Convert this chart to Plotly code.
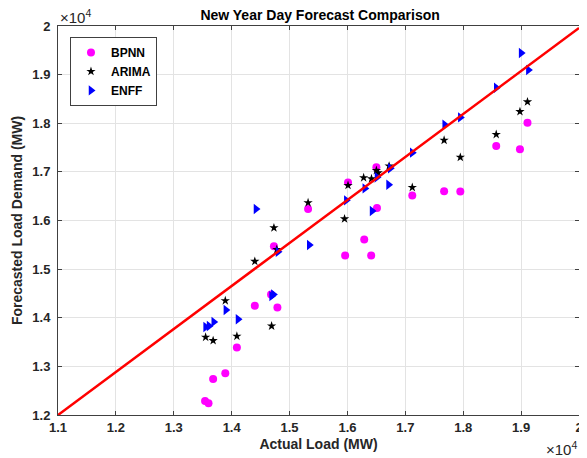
import plotly.graph_objects as go

# actual load (MW) vs forecast per model
bpnn_actual = [13540, 13600, 13680, 13890, 14090, 14400, 14680, 14790, 14730, 15320, 15960,
               16410, 16290, 16510, 16010, 16500, 17120, 17670, 17950, 18570, 18980, 19110]
bpnn_fcst = [12290, 12240, 12740, 12860, 13390, 14245, 14480, 14210, 15470, 16235, 15280,
             15280, 15610, 16255, 16784, 17093, 16516, 16600, 16595, 17531, 17463, 18010]

arima_actual = [13550, 13680, 14090, 13890, 14690, 14400, 14730, 14780, 15320, 15950, 16010,
                16280, 16415, 16500, 16530, 16720, 17120, 17670, 17950, 18570, 18980, 19110]
arima_fcst = [13600, 13530, 13620, 14350, 13830, 15160, 15850, 15405, 16365, 16035, 16722,
              16880, 16860, 17030, 16980, 17120, 16680, 17650, 17300, 17770, 18240, 18440]

enff_actual = [13550, 13610, 13690, 13900, 14110, 14420, 14690, 14720, 14800, 15340, 15980,
               16300, 16425, 16510, 16710, 16740, 17120, 17680, 17950, 18570, 19000, 19125]
enff_fcst = [13810, 13830, 13915, 14160, 13970, 16235, 14445, 14480, 15355, 15495, 16414,
             16660, 16195, 16890, 16735, 17075, 17395, 17970, 18120, 18730, 19445, 19095]

line_x = [11000, 20000]
line_y = [12000, 19960]

x_ticks = [11000, 12000, 13000, 14000, 15000, 16000, 17000, 18000, 19000, 20000]
x_ticktext = ["1.1", "1.2", "1.3", "1.4", "1.5", "1.6", "1.7", "1.8", "1.9", "2"]
y_ticks = [12000, 13000, 14000, 15000, 16000, 17000, 18000, 19000, 20000]
y_ticktext = ["1.2", "1.3", "1.4", "1.5", "1.6", "1.7", "1.8", "1.9", "2"]

FONT = "Liberation Sans, Arial, sans-serif"
INK = "#262626"

fig = go.Figure()
fig.add_trace(go.Scatter(x=bpnn_actual, y=bpnn_fcst, mode="markers", name="BPNN",
                         marker=dict(symbol="circle", size=8, color="#ff00ff")))
fig.add_trace(go.Scatter(x=arima_actual, y=arima_fcst, mode="markers", name="ARIMA",
                         marker=dict(symbol="star", size=7, color="black")))
fig.add_trace(go.Scatter(x=enff_actual, y=enff_fcst, mode="markers", name="ENFF",
                         marker=dict(symbol="triangle-right", size=9, color="#0000ff")))
fig.add_trace(go.Scatter(x=line_x, y=line_y, mode="lines", showlegend=False,
                         line=dict(color="#ff0000", width=2.5)))

_axis = dict(showgrid=True, gridcolor="#e3e3e3", gridwidth=1, zeroline=False,
             showline=True, linecolor="#404040", linewidth=1, mirror="ticks",
             ticks="inside", ticklen=4, tickcolor="#404040",
             tickfont=dict(family=FONT, size=13, color=INK, weight="bold"))

fig.update_xaxes(range=[11000, 20000], tickvals=x_ticks, ticktext=x_ticktext,
                 title=dict(text="Actual Load (MW)", standoff=5,
                            font=dict(family=FONT, size=14, color=INK, weight="bold")),
                 **_axis)
fig.update_yaxes(range=[12000, 20000], tickvals=y_ticks, ticktext=y_ticktext,
                 ticklabelstandoff=4,
                 title=dict(text="Forecasted Load Demand (MW)", standoff=6,
                            font=dict(family=FONT, size=14, color=INK, weight="bold")),
                 **_axis)

# page body has an 8px margin, so the figure is sized/offset to land the axes
# at the same window pixels as the reference
fig.update_layout(
    width=579, height=450,
    margin=dict(l=50, r=4, t=18, b=43),
    paper_bgcolor="white", plot_bgcolor="white",
    title=dict(text="New Year Day Forecast Comparison", x=0.539, xanchor="center",
               y=0.984, yanchor="middle",
               font=dict(family=FONT, size=14, color="black", weight="bold")),
    legend=dict(x=0.023, y=0.972, xanchor="left", yanchor="top",
                bgcolor="white", bordercolor="#404040", borderwidth=1,
                font=dict(family=FONT, size=12, color="black", weight="bold"),
                itemwidth=30, tracegroupgap=0),
    showlegend=True,
    annotations=[
        dict(text="×10<sup>4</sup>", xref="paper", yref="paper", x=0.0, y=1.0,
             xanchor="left", yanchor="bottom", showarrow=False, yshift=-2,
             font=dict(family=FONT, size=15, color=INK)),
        dict(text="×10<sup>4</sup>", xref="paper", yref="paper", x=1.0, y=0.0,
             xanchor="right", yanchor="top", showarrow=False, yshift=-22,
             font=dict(family=FONT, size=15, color=INK)),
    ],
)

fig.write_html("out.html")
